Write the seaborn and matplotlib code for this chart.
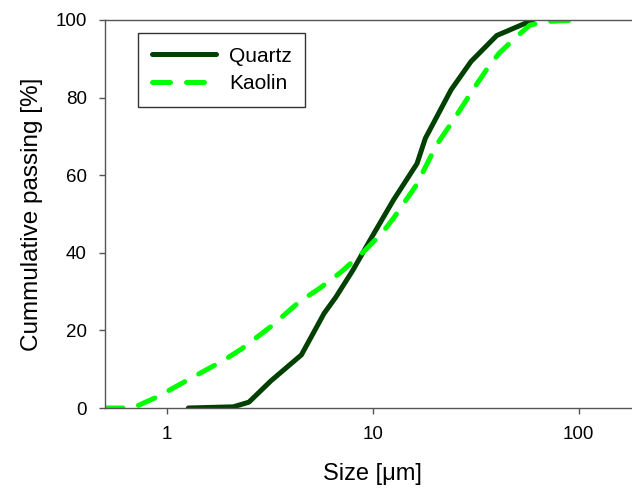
import matplotlib
matplotlib.use("Agg")
import matplotlib.pyplot as plt
import seaborn as sns
import pandas as pd

# particle size distributions
quartz_size = [1.27, 2.1, 2.5, 3.2, 4.5, 5.8, 6.6, 8.0, 10.0, 12.6, 16.4, 18.0, 24.0, 30.0, 40.0, 60.0]
quartz_pass = [0.0, 0.3, 1.5, 7.0, 13.7, 24.4, 28.5, 35.5, 44.5, 53.6, 63.0, 69.5, 82.0, 89.3, 96.0, 100.0]

kaolin_size = [0.5, 0.68, 0.9, 1.3, 1.9, 2.3, 3.2, 4.4, 5.5, 7.0, 9.2, 11.2, 12.6, 16.3, 20.4, 25.0, 31.0, 36.0, 41.0, 50.0, 58.0, 70.0, 100.0]
kaolin_pass = [0.0, 0.0, 2.9, 7.6, 12.4, 15.2, 21.0, 27.4, 30.8, 35.0, 40.7, 45.4, 48.9, 57.5, 67.8, 74.7, 82.4, 87.5, 91.4, 95.7, 98.7, 99.6, 100.0]

df_q = pd.DataFrame({"size": quartz_size, "passing": quartz_pass})
df_k = pd.DataFrame({"size": kaolin_size, "passing": kaolin_pass})

sns.set_style("ticks")
plt.rcParams["font.family"] = ["Liberation Sans", "DejaVu Sans"]
plt.rcParams["text.color"] = "black"
plt.rcParams["axes.labelcolor"] = "black"
plt.rcParams["xtick.labelcolor"] = "black"
plt.rcParams["ytick.labelcolor"] = "black"

fig = plt.figure(figsize=(6.32, 4.90), dpi=100)
ax = fig.add_axes([105/632, 82/490, 535.6/632, 388/490])

sns.lineplot(data=df_q, x="size", y="passing", ax=ax, color="#004000", lw=3.6,
             solid_capstyle="round", label="Quartz", sort=False)
sns.lineplot(data=df_k, x="size", y="passing", ax=ax, color="#00ff00", lw=3.6,
             linestyle=(0, (3.6, 3.2)), dash_capstyle="round", label="Kaolin", sort=False)

ax.set_xscale("log")
ax.set_xlim(0.5, 200)
ax.set_ylim(0, 100)
ax.set_xticks([1, 10, 100])
ax.set_xticklabels(["1", "10", "100"])
ax.minorticks_off()
ax.set_yticks([0, 20, 40, 60, 80, 100])

for s in ax.spines.values():
    s.set_color("#555555")
    s.set_linewidth(1.0)
ax.tick_params(direction="out", length=4, width=1, color="#555555",
               labelcolor="black", labelsize=13.5, pad=9)

ax.set_xlabel("Size [μm]", fontsize=17, labelpad=14)
ax.set_ylabel("Cummulative passing [%]", fontsize=17.5, labelpad=9)

leg = ax.legend(loc="upper left", bbox_to_anchor=(0.062, 0.966), borderaxespad=0,
                fontsize=15, frameon=True, fancybox=False, handlelength=3.1,
                handletextpad=0.6, borderpad=0.65, labelspacing=0.4)
leg.get_frame().set_edgecolor("black")
leg.get_frame().set_linewidth(1.0)

fig.savefig("out.png", dpi=100)
